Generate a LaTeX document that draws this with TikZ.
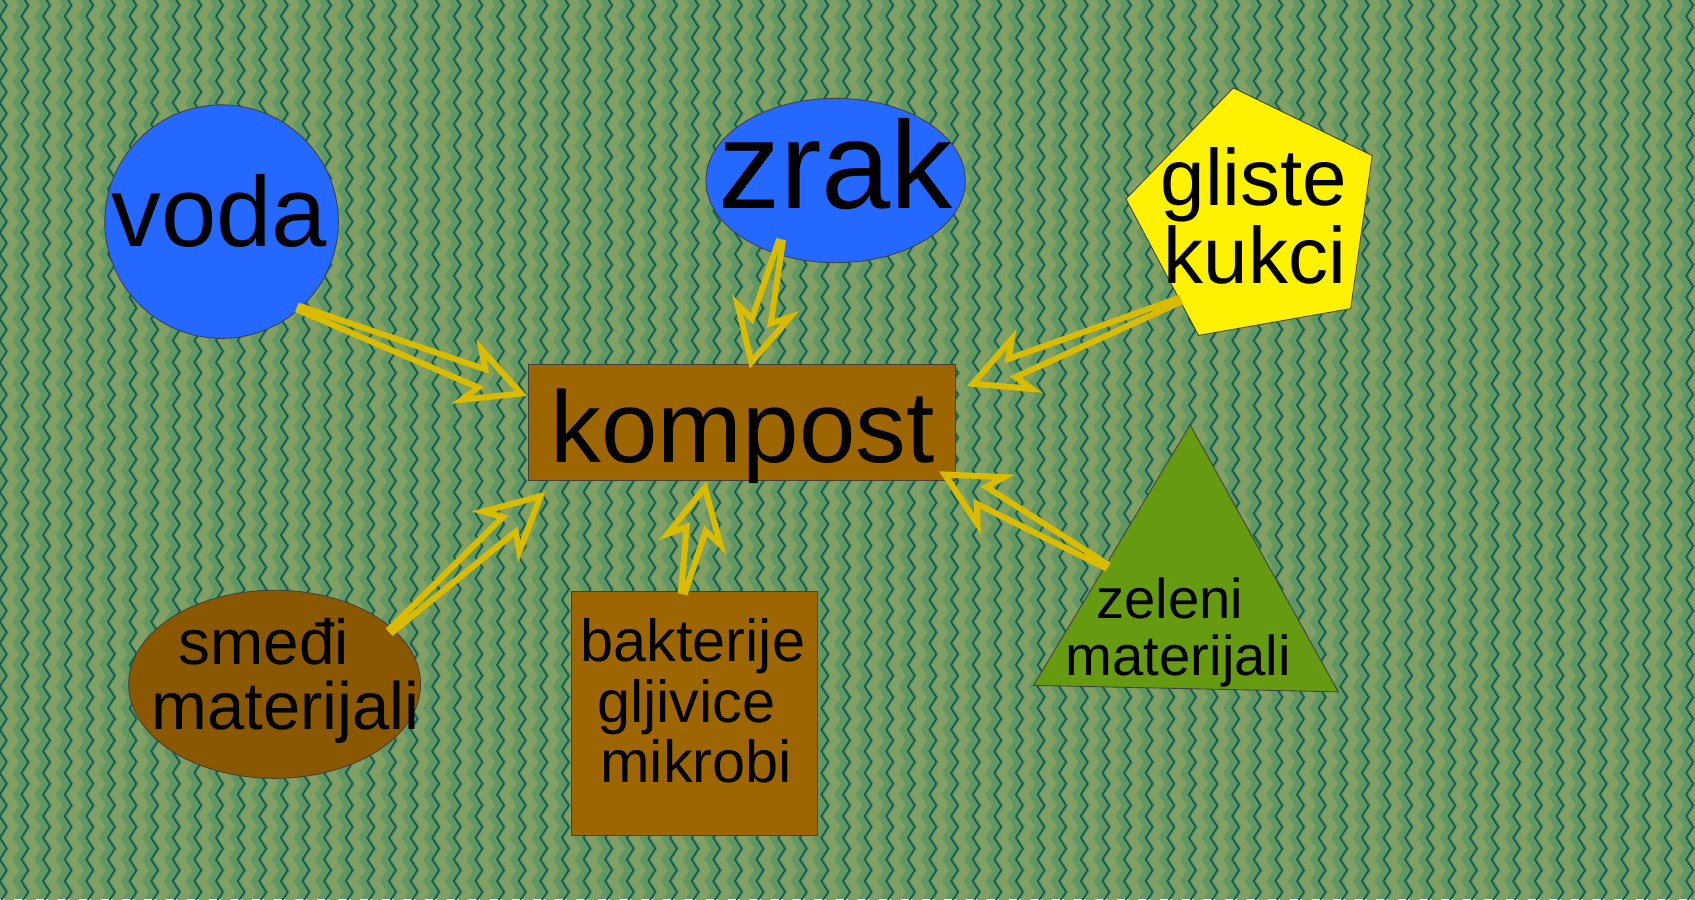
\documentclass[tikz,border=0pt]{standalone}
\usepackage{fontspec}
\setmainfont{Liberation Sans}
\usetikzlibrary{shapes.geometric,calc,decorations.pathmorphing}

\definecolor{meadow}{RGB}{95,152,100}
\definecolor{moss}{RGB}{130,160,100}
\definecolor{pine}{RGB}{26,90,78}
\definecolor{skyblue}{RGB}{36,104,255}
\definecolor{soil}{RGB}{158,102,0}
\definecolor{darksoil}{RGB}{138,88,0}
\definecolor{leaf}{RGB}{102,154,16}
\definecolor{straw}{RGB}{217,187,0}

\newcommand\feedarrow[2]{%
  \path (#2) coordinate (tip)
    ($(#2)!19.5pt!(#1)$) coordinate (neck)
    ($(#2)!24.5pt!(#1)$) coordinate (barb);
  \draw[feed] ($(#1)!1pt!90:(tip)$) -- ($(neck)!4.5pt!90:(tip)$)
    -- ($(barb)!12.5pt!90:(tip)$) -- (tip)
    -- ($(barb)!12.5pt!-90:(tip)$) -- ($(neck)!4.5pt!-90:(tip)$)
    -- ($(#1)!1pt!-90:(tip)$) -- cycle;}

\begin{document}
\begin{tikzpicture}[x=0.5pt, y=-0.5pt,
  bubble/.style = {draw=black!75, line width=0.4pt, inner sep=0pt, outer sep=0pt},
  word/.style = {anchor=base, inner sep=0pt, text=black},
  feed/.style = {draw=straw, line width=2.8pt, line join=miter},
  zig/.style = {decorate, decoration={zigzag, segment length=10pt, amplitude=1.6pt}}]
  \useasboundingbox (0,0) rectangle (1568,832);
  \fill[meadow] (0,0) rectangle (1568,832);
  \begin{scope}
    \clip (0,0) rectangle (1568,832);
    \foreach \col in {0,...,79} {
      \draw[moss, line width=3.8pt, zig] (\col*20+10,-20) -- (\col*20+10,860);
      \draw[pine, line width=0.8pt, zig] (\col*20+3,-20) -- (\col*20+3,860);
    }
  \end{scope}

  \node[bubble, circle, fill=skyblue, minimum size=108pt] (voda) at (205,205) {};
  \node[bubble, ellipse, fill=skyblue, minimum width=120pt, minimum height=76pt] (zrak) at (773,167) {};
  \node[bubble, regular polygon, regular polygon sides=5, shape border rotate=10,
    fill=yellow, minimum size=121.6pt] (gliste) at (1162,201) {};
  \node[bubble, rectangle, fill=soil, minimum width=197.5pt, minimum height=53.5pt] (kompost) at (686.5,390.5) {};
  \node[bubble, ellipse, fill=darksoil, minimum width=135pt, minimum height=87pt] (smedji) at (254,633) {};
  \node[bubble, rectangle, fill=soil, minimum width=113.5pt, minimum height=113pt] (bakterije) at (642.5,660) {};
  \coordinate (zeleniTop) at (1101,393);
  \coordinate (zeleniLeft) at (956,634);
  \coordinate (zeleniRight) at (1238,640);
  \draw[bubble, fill=leaf] (zeleniTop) -- (zeleniLeft) -- (zeleniRight) -- cycle;

  \node[word, font=\fontsize{46}{46}\selectfont] (vodaText) at (203,228) {voda};
  \node[word, font=\fontsize{57.5}{57.5}\selectfont] (zrakText) at (773,193) {zrak};
  \node[word, font=\fontsize{37}{37}\selectfont] (glisteText) at (1160,190) {gliste};
  \node[word, font=\fontsize{37}{37}\selectfont] (kukciText) at (1161,262) {kukci};
  \node[word, font=\fontsize{47}{47}\selectfont] (kompostText) at (687,428) {kompost};
  \node[word, font=\fontsize{29.5}{29.5}\selectfont] (smedjiText) at (244,615) {smeđi};
  \node[word, font=\fontsize{31}{31}\selectfont] (smedjiText2) at (264,675) {materijali};
  \node[word, font=\fontsize{27.5}{27.5}\selectfont] (bakterijeText) at (641,612) {bakterije};
  \node[word, font=\fontsize{27.5}{27.5}\selectfont] (gljiviceText) at (635,668) {gljivice};
  \node[word, font=\fontsize{27.5}{27.5}\selectfont] (mikrobiText) at (644,724) {mikrobi};
  \node[word, font=\fontsize{26}{26}\selectfont] (zeleniText) at (1082,572) {zeleni};
  \node[word, font=\fontsize{26}{26}\selectfont] (zeleniText2) at (1090,625) {materijali};

  \coordinate (vodaTail) at (voda.-48);
  \coordinate (zrakTail) at ($(zrak)+(-51,57)$);
  \coordinate (glisteTail) at ($(gliste)+(-72,77)$);
  \coordinate (smedjiTail) at ($(smedji)+(108,-50)$);
  \coordinate (bakterijeTail) at ($(bakterije.north)+(-10.5,0)$);
  \coordinate (zeleniTail) at ($(zeleniTop)!0.54!(zeleniLeft)$);
  \coordinate (vodaTip) at ($(kompost.north west)+(-7,27)$);
  \coordinate (zrakTip) at ($(kompost.north west)+(206,-2)$);
  \coordinate (glisteTip) at ($(kompost.north east)+(16,18)$);
  \coordinate (smedjiTip) at ($(kompost.south west)+(11,15)$);
  \coordinate (bakterijeTip) at ($(kompost.south west)+(163,7)$);
  \coordinate (zeleniTip) at ($(kompost.south east)+(-10,-5)$);

  \feedarrow{vodaTail}{vodaTip}
  \feedarrow{zrakTail}{zrakTip}
  \feedarrow{glisteTail}{glisteTip}
  \feedarrow{smedjiTail}{smedjiTip}
  \feedarrow{bakterijeTail}{bakterijeTip}
  \feedarrow{zeleniTail}{zeleniTip}
\end{tikzpicture}
\end{document}
